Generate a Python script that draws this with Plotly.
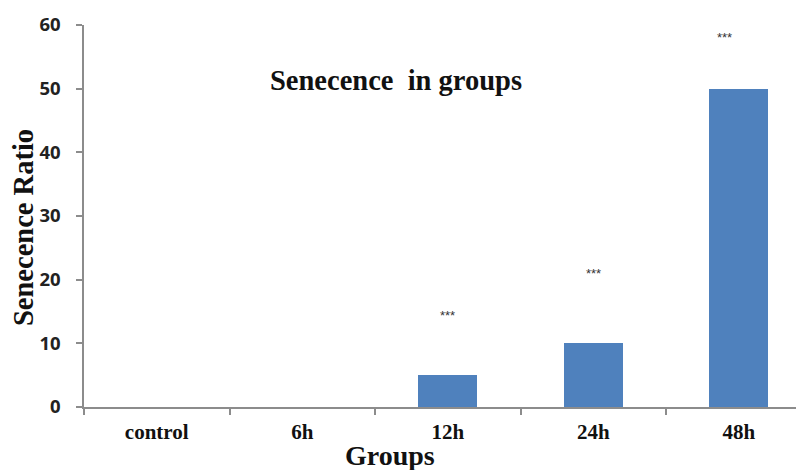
import plotly.graph_objects as go

categories = ["control", "6h", "12h", "24h", "48h"]
values = [0, 0, 5, 10, 50]
sig_labels = ["", "", "***", "***", "***"]
sig_positions = [0, 0, 14.4, 21.0, 58.0]
y_ticks = [0, 10, 20, 30, 40, 50, 60]

# page body has an 8px margin, so margins are offset accordingly
W, H = 804, 470
L, R, T, B = 76, 0, 17, 71

fig = go.Figure()
fig.add_trace(go.Bar(
    x=categories, y=values, width=0.405,
    marker=dict(color="#4F81BD", line=dict(width=0)),
    showlegend=False,
))

serif = "Liberation Serif, Times New Roman, serif"
for c, lab, yp in zip(categories, sig_labels, sig_positions):
    if lab:
        fig.add_annotation(
            x=c, y=yp, xref="x", yref="y", text=lab, showarrow=False,
            xshift=-14 if c == "48h" else 0,
            font=dict(family="Liberation Sans, Arial", size=13, color="#333333"),
        )

fig.add_annotation(
    x=0.4292, y=0.856, xref="paper", yref="paper", text="<b>Senecence  in groups</b>",
    showarrow=False, xanchor="center", yanchor="middle",
    font=dict(family=serif, size=28.5, color="#111111"),
)
fig.add_annotation(
    x=0.4203, y=-0.128, xref="paper", yref="paper", text="<b>Groups</b>",
    showarrow=False, xanchor="center", yanchor="middle",
    font=dict(family=serif, size=28, color="#111111"),
)
fig.add_annotation(
    x=-0.0824, y=0.4686, xref="paper", yref="paper", text="<b>Senecence Ratio</b>",
    showarrow=False, xanchor="center", yanchor="middle", textangle=-90,
    font=dict(family=serif, size=28.5, color="#111111"),
)

fig.update_layout(
    width=W, height=H,
    margin=dict(l=L, r=R, t=T, b=B, pad=0, autoexpand=False),
    paper_bgcolor="white", plot_bgcolor="white",
    bargap=0,
)
fig.update_xaxes(
    type="category", range=[-0.5, 4.503], automargin=False,
    showline=True, linecolor="#8c8c8c", linewidth=1.5,
    ticks="outside", tickson="boundaries", ticklen=6, tickcolor="#8c8c8c", tickwidth=1.5,
    showgrid=False, zeroline=False,
    tickfont=dict(family=serif, size=21, color="#111111", weight="bold"),
    ticklabelstandoff=5,
)
fig.update_yaxes(
    range=[0, 60], tickvals=y_ticks, automargin=False,
    showline=True, linecolor="#8c8c8c", linewidth=1.5,
    ticks="outside", ticklen=6, tickcolor="#8c8c8c", tickwidth=1.5,
    showgrid=False, zeroline=False,
    tickfont=dict(family="Open Sans, Arial", size=18.5, color="#222222", weight="bold"),
    ticklabelstandoff=12,
)

fig.write_html("out.html")
